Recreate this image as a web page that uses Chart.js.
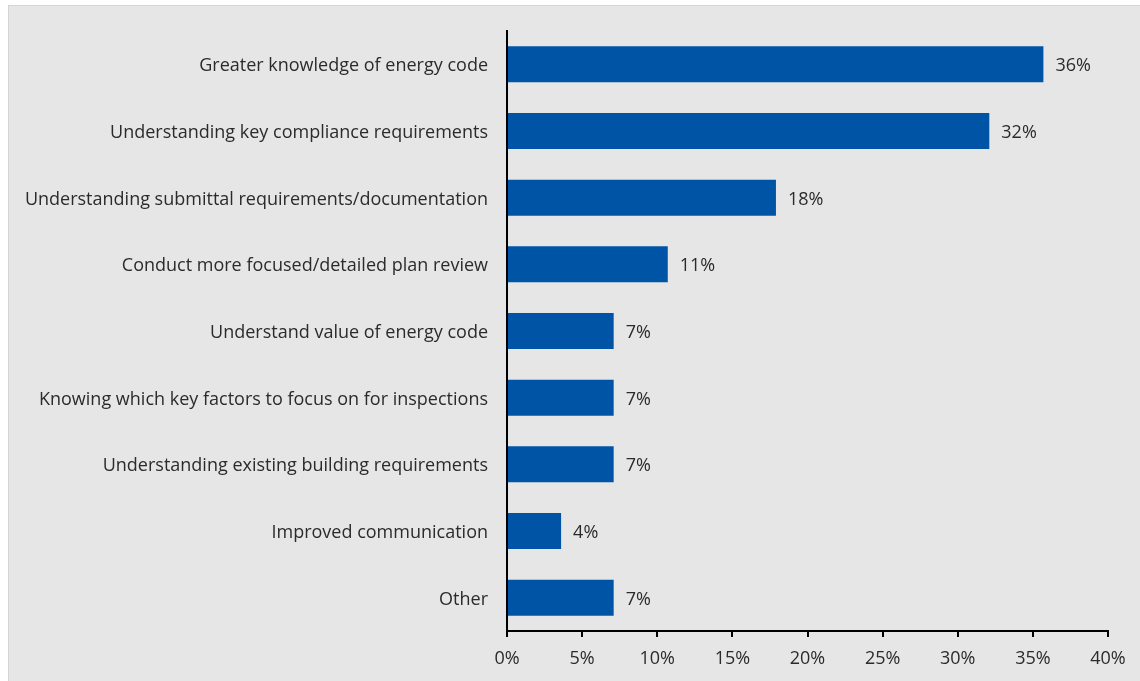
<!DOCTYPE html>
<html>
<head>
<meta charset="utf-8">
<script src="https://cdn.jsdelivr.net/npm/chart.js@4.4.1/dist/chart.umd.min.js"></script>
<style>
  html, body { margin: 0; padding: 0; background: #fff; }
  #wrap { position: absolute; left: 0; top: 0; width: 1140px; height: 681px; }
</style>
</head>
<body>
<div id="wrap"><canvas id="chart" width="1140" height="681"></canvas></div>
<script>
// --- data ---
const categories = [
    'Greater knowledge of energy code',
    'Understanding key compliance requirements',
    'Understanding submittal requirements/documentation',
    'Conduct more focused/detailed plan review',
    'Understand value of energy code',
    'Knowing which key factors to focus on for inspections',
    'Understanding existing building requirements',
    'Improved communication',
    'Other'
];
const shares = [35.7, 32.1, 17.9, 10.7, 7.1, 7.1, 7.1, 3.6, 7.1];
const valueLabels = ['36%', '32%', '18%', '11%', '7%', '7%', '7%', '4%', '7%'];
const xTicks = [0, 5, 10, 15, 20, 25, 30, 35, 40];

const FONT = "'Open Sans', 'Noto Sans', sans-serif";
const TEXT = '#2b2b2b';

// grey panel behind the chart
const panelBg = {
    id: 'panelBg',
    beforeDraw(chart) {
        const c = chart.ctx;
        c.save();
        c.fillStyle = '#ffffff';
        c.fillRect(0, 0, chart.width, chart.height);
        c.fillStyle = '#e6e6e6';
        c.fillRect(8, 5, chart.width - 8, chart.height - 5);
        c.strokeStyle = '#d4d4d4';
        c.lineWidth = 1;
        c.strokeRect(8.5, 5.5, chart.width - 8, chart.height - 5);
        c.restore();
    }
};

// % labels to the right of each bar
const barLabels = {
    id: 'barLabels',
    afterDatasetsDraw(chart) {
        const c = chart.ctx;
        const meta = chart.getDatasetMeta(0);
        c.save();
        c.font = '18px ' + FONT;
        c.fillStyle = TEXT;
        c.textBaseline = 'middle';
        c.textAlign = 'left';
        meta.data.forEach((bar, i) => {
            c.fillText(valueLabels[i], bar.x + 12, bar.y + 2);
        });
        c.restore();
    }
};

new Chart(document.getElementById('chart'), {
    type: 'bar',
    data: {
        labels: categories,
        datasets: [{
            data: shares,
            backgroundColor: '#0054a5',
            borderWidth: 0,
            categoryPercentage: 1,
            barPercentage: 0.54
        }]
    },
    options: {
        indexAxis: 'y',
        responsive: false,
        animation: false,
        layout: { padding: { top: 31, right: 32, left: 0, bottom: 0 } },
        plugins: { legend: { display: false }, tooltip: { enabled: false } },
        scales: {
            x: {
                min: 0,
                max: 40,
                afterBuildTicks(axis) { axis.ticks = xTicks.map(v => ({ value: v })); },
                afterFit(axis) { axis.height = 50; },
                border: { display: true, color: '#000', width: 2 },
                grid: { drawOnChartArea: false, drawTicks: true, tickLength: 6, color: '#000', lineWidth: 2 },
                ticks: {
                    padding: 11,
                    color: TEXT,
                    font: { family: FONT, size: 18 },
                    maxRotation: 0,
                    callback: v => v + '%'
                }
            },
            y: {
                afterFit(axis) { axis.width = 507; },
                border: { display: true, color: '#000', width: 2 },
                grid: { display: false, drawTicks: false },
                ticks: {
                    padding: 19,
                    labelOffset: 2,
                    color: TEXT,
                    font: { family: FONT, size: 18 }
                }
            }
        }
    },
    plugins: [panelBg, barLabels]
});
</script>
</body>
</html>
